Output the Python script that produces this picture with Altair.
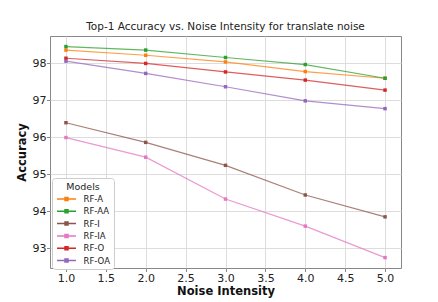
import altair as alt
import pandas as pd

x_vals = [1.0, 2.0, 3.0, 4.0, 5.0]
models = ["RF-A", "RF-AA", "RF-I", "RF-IA", "RF-O", "RF-OA"]
rf_a = [98.35, 98.21, 98.03, 97.77, 97.59]
rf_aa = [98.445, 98.35, 98.15, 97.96, 97.59]
rf_i = [96.39, 95.86, 95.24, 94.44, 93.85]
rf_ia = [95.99, 95.46, 94.33, 93.60, 92.75]
rf_o = [98.13, 97.99, 97.76, 97.54, 97.27]
rf_oa = [98.05, 97.72, 97.36, 96.98, 96.77]
colors = ["#ff7f0e", "#2ca02c", "#8c564b", "#e377c2", "#d62728", "#9467bd"]
x_ticks = [1.0, 1.5, 2.0, 2.5, 3.0, 3.5, 4.0, 4.5, 5.0]
y_ticks = [93, 94, 95, 96, 97, 98]

series = [rf_a, rf_aa, rf_i, rf_ia, rf_o, rf_oa]
rows = []
for m, vals in zip(models, series):
    for xv, yv in zip(x_vals, vals):
        rows.append({"Noise Intensity": xv, "Accuracy": yv, "Model": m})
df = pd.DataFrame(rows)

font = "DejaVu Sans"
xenc = alt.X("Noise Intensity:Q",
             scale=alt.Scale(domain=[0.8, 5.2], nice=False, zero=False),
             axis=alt.Axis(values=x_ticks, format=".1f", title="Noise Intensity"))
yenc = alt.Y("Accuracy:Q",
             scale=alt.Scale(domain=[92.47, 98.73], nice=False, zero=False),
             axis=alt.Axis(values=y_ticks, format="d", title="Accuracy"))
color = alt.Color("Model:N", scale=alt.Scale(domain=models, range=colors),
                  legend=alt.Legend(
                      title="Models", orient="none", legendX=2, legendY=142,
                      titleAnchor="middle",
                      symbolType="M-1.9,0L-0.35,0M0.35,0L1.9,0M-0.3,-0.3L0.3,-0.3L0.3,0.3L-0.3,0.3Z",
                      symbolSize=100, symbolStrokeWidth=1.5, symbolOffset=4.5,
                      strokeColor="#cccccc", cornerRadius=3, padding=4,
                      fillColor="white", rowPadding=1.3,
                      labelOffset=11,
                      labelFontSize=8.5, titleFontSize=9.5, titleFontWeight="normal",
                      labelFont=font, titleFont=font, titlePadding=1.5,
                      labelColor="#222", titleColor="#222"))

lines = alt.Chart(df).mark_line(strokeWidth=1.2, strokeOpacity=0.75).encode(
    x=xenc, y=yenc, color=color, detail="Model:N")
points = alt.Chart(df).mark_point(filled=True, shape="square", size=12, opacity=1).encode(
    x=xenc, y=yenc, color=alt.Color("Model:N", scale=alt.Scale(domain=models, range=colors), legend=None))

chart = alt.layer(lines, points).properties(
    width=351, height=232,
    title=alt.TitleParams("Top-1 Accuracy vs. Noise Intensity for translate noise",
                          fontSize=10.5, font=font, fontWeight="normal", color="#222", offset=4),
    autosize=alt.AutoSizeParams(type="none"),
    padding={"left": 42, "top": 28, "right": 25, "bottom": 30},
).configure_view(stroke="#888888", strokeWidth=1).configure_axis(
    labelFont=font, titleFont=font, labelFontSize=11, titleFontSize=11.5,
    titleFontWeight="bold", labelColor="#222", titleColor="#111",
    gridColor="#dddddd", gridWidth=1, domain=False, tickColor="#888888",
    tickSize=3.5, labelPadding=0.5,
).configure_axisX(titlePadding=2).configure_axisY(titlePadding=5)

chart.save("out.html", embed_options={"renderer": "svg", "actions": False})
